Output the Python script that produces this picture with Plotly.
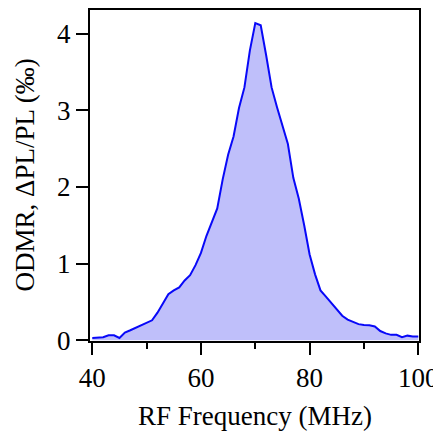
import plotly.graph_objects as go

freq_mhz = list(range(40, 101))
odmr_permille = [
    0.03, 0.035, 0.04, 0.065, 0.065, 0.03, 0.10, 0.13, 0.16, 0.20,
    0.22, 0.26, 0.36, 0.48, 0.60, 0.65, 0.69, 0.78, 0.85, 0.98,
    1.14, 1.36, 1.54, 1.72, 2.10, 2.42, 2.66, 3.03, 3.30, 3.78,
    4.14, 4.11, 3.72, 3.30, 3.04, 2.81, 2.56, 2.12, 1.85, 1.50,
    1.12, 0.86, 0.65, 0.57, 0.49, 0.40, 0.32, 0.27, 0.235, 0.21,
    0.20, 0.195, 0.18, 0.12, 0.09, 0.07, 0.07, 0.04, 0.06, 0.05,
    0.05,
]
x_tickvals = [40, 60, 80, 100]
y_tickvals = [0, 1, 2, 3, 4]
x_title = "RF Frequency (MHz)"
y_title = "ODMR, ΔPL/PL (‰)"

FONT = "Liberation Serif"

fig = go.Figure()
fig.add_trace(go.Scatter(
    x=freq_mhz, y=odmr_permille, mode="lines",
    line=dict(color="#0808f8", width=2),
    fill="tozeroy", fillcolor="rgb(191,191,250)",
    hoverinfo="skip", showlegend=False,
))

# page body has an 8px margin, so the figure is 8px smaller than the window
fig.update_layout(
    width=433, height=425,
    margin=dict(l=82, r=22, t=2, b=92, autoexpand=False),
    paper_bgcolor="white", plot_bgcolor="white",
    font=dict(family=FONT, size=27, color="black"),
)
fig.update_xaxes(
    range=[39.58, 100.13], tickvals=x_tickvals, automargin=False,
    ticks="outside", ticklen=12, tickwidth=2, tickcolor="black",
    minor=dict(dtick=10, tick0=40, ticks="outside", ticklen=6, tickwidth=2, tickcolor="black", showgrid=False),
    showline=True, linecolor="black", linewidth=2, mirror=True,
    showgrid=False, zeroline=False,
    tickfont=dict(family=FONT, size=27),
)
fig.update_yaxes(
    range=[-0.01, 4.31], tickvals=y_tickvals, automargin=False,
    ticks="outside", ticklen=12, tickwidth=2, tickcolor="black",
    showline=True, linecolor="black", linewidth=2, mirror=True,
    showgrid=False, zeroline=False,
    tickfont=dict(family=FONT, size=27),
)
fig.add_annotation(
    text=x_title, xref="paper", yref="paper", x=0.5, y=0,
    yshift=-75, xanchor="center", yanchor="middle", showarrow=False,
    font=dict(family=FONT, size=27),
)
fig.add_annotation(
    text=y_title, xref="paper", yref="paper", x=0, y=0.5,
    xshift=-66, textangle=-90, xanchor="center", yanchor="middle", showarrow=False,
    font=dict(family=FONT, size=27),
)

fig.write_html("out.html")
